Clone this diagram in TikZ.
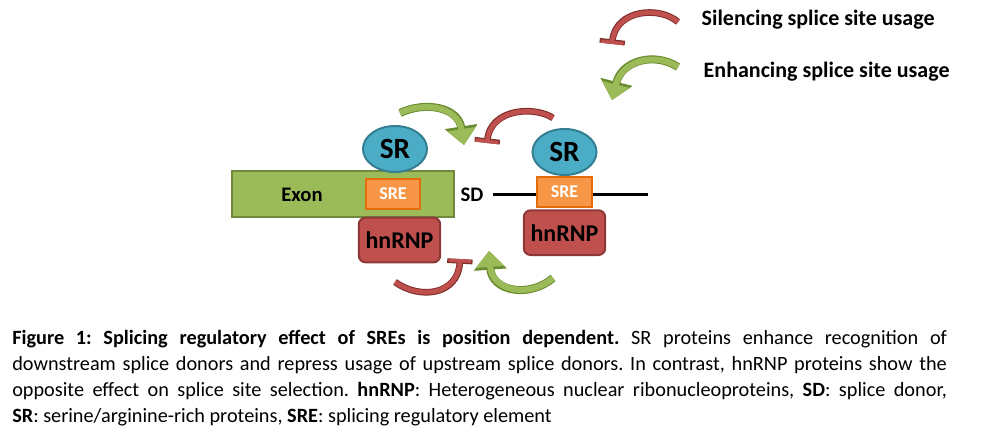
\documentclass[tikz,border=0pt]{standalone}
\usepackage{fontspec}
\setmainfont{Carlito}
\usetikzlibrary{arrows.meta,shapes.geometric,positioning}
\definecolor{exongreen}{HTML}{9BBB59}
\definecolor{exonborder}{HTML}{71893F}
\definecolor{sreorange}{HTML}{F79646}
\definecolor{sreborder}{HTML}{E46C0A}
\definecolor{srblue}{HTML}{4BACC6}
\definecolor{srborder}{HTML}{357D91}
\definecolor{hnred}{HTML}{C0504D}
\definecolor{hnborder}{HTML}{8C3836}
\definecolor{arrowgreenD}{HTML}{6A8A30}
\definecolor{arrowredD}{HTML}{7F2E2C}
\tikzset{
    exonbox/.style ={rectangle, fill=exongreen, draw=exonborder, minimum width=166.5pt, minimum height=34.5pt},
    srebox/.style ={rectangle, fill=sreorange, draw=sreborder, text=white, minimum width=41pt, minimum height=22.5pt, font=\bfseries\fontsize{13.5}{16}\selectfont},
    srbox/.style ={ellipse, fill=srblue, draw=srborder, minimum width=48pt, minimum height=34.5pt, font=\bfseries\fontsize{22}{24}\selectfont},
    hnbox/.style ={rectangle, rounded corners=5pt, fill=hnred, draw=hnborder, minimum width=61pt, minimum height=33.5pt, font=\bfseries\fontsize{18}{21}\selectfont},
    enhance/.style={draw=exongreen, line width=4.5pt, -{Triangle[width=21pt,length=12pt]},
        preaction={draw=arrowgreenD, line width=6pt, -{Triangle[width=24pt,length=14pt]}}},
    silence/.style={draw=hnred, line width=3.5pt, -{Bar[width=17pt,line width=2.5pt]},
        preaction={draw=arrowredD, line width=5pt, -{Bar[width=19pt,line width=3.5pt]}}},
    legendtext/.style={anchor=west, font=\bfseries\fontsize{16.5}{20}\selectfont}
}
\begin{document}
\begin{tikzpicture}[x=0.75pt, y=-0.75pt,
  mynode/.style={line width=1.5pt, inner sep=0pt, font=\bfseries}
]
\useasboundingbox (0,0) rectangle (996,443);

% Nodes
\node[mynode, exonbox] (exon) at (343,194) {};
\node[font=\bfseries\fontsize{15.5}{18}\selectfont] (exonlbl) at (302,195) {Exon};
\node[mynode, srebox] (sreL) at (393,194) {SRE};
\node[mynode, srbox] (srL) at (395,149) {SR};
\node[mynode, hnbox] (hnL) at (399.5,240) {hnRNP};
\node[font=\bfseries\fontsize{15.5}{18}\selectfont] (sd) at (472,195) {SD};
\coordinate (intronL) at (493,194);
\coordinate (intronR) at (648,194);
\draw[line width=2.25pt] (intronL) -- (intronR);
\node[mynode, srebox] (sreR) at (564.5,192) {SRE};
\node[mynode, srbox, above=0pt of sreR] (srR) {SR};
\node[mynode, hnbox, below=1pt of sreR] (hnR) {hnRNP};

% Paths (enhancing and silencing effects)
\coordinate (upG1) at (400,113);  \coordinate (upG2) at (464,145);
\coordinate (upR1) at (553,118);  \coordinate (upR2) at (487,143);
\coordinate (loR1) at (395,282);  \coordinate (loR2) at (460,259);
\coordinate (loG1) at (553,278);  \coordinate (loG2) at (489,251);
\draw[enhance] (upG1) .. controls (425,101) and (458,107) .. (upG2);
\draw[silence] (upR1) .. controls (535,106) and (491,108) .. (upR2);
\draw[silence] (loR1) .. controls (420,300) and (458,295) .. (loR2);
\draw[enhance] (loG1) .. controls (530,298) and (492,292) .. (loG2);

% Legend
\coordinate (legR1) at (678,22);  \coordinate (legR2) at (612,44);
\coordinate (legG1) at (678,67);  \coordinate (legG2) at (612,100);
\draw[silence] (legR1) .. controls (660,6) and (616,9) .. (legR2);
\draw[enhance] (legG1) .. controls (655,52) and (622,60) .. (legG2);
\node[legendtext] (silLbl) at (697,20) {Silencing splice site usage};
\node[legendtext] (enhLbl) at (699,72) {Enhancing splice site usage};

% Caption
\node[anchor=north west, inner sep=0pt, text width=701pt, align=justify,
  font=\fontsize{15.2}{19.4}\selectfont] (caption) at (12,330)
  {\frenchspacing\hyphenpenalty=10000 \emergencystretch=3em\relax
   \textbf{Figure 1: Splicing regulatory effect of SREs is position dependent.} SR proteins enhance recognition of\linebreak
   downstream splice donors and repress usage of upstream splice donors. In contrast, hnRNP proteins show the\linebreak
   opposite effect on splice site selection. \textbf{hnRNP}: Heterogeneous nuclear ribonucleoproteins, \textbf{SD}: splice donor,\linebreak
   \textbf{SR}: serine/arginine-rich proteins, \textbf{SRE}: splicing regulatory element};

\end{tikzpicture}
\end{document}
